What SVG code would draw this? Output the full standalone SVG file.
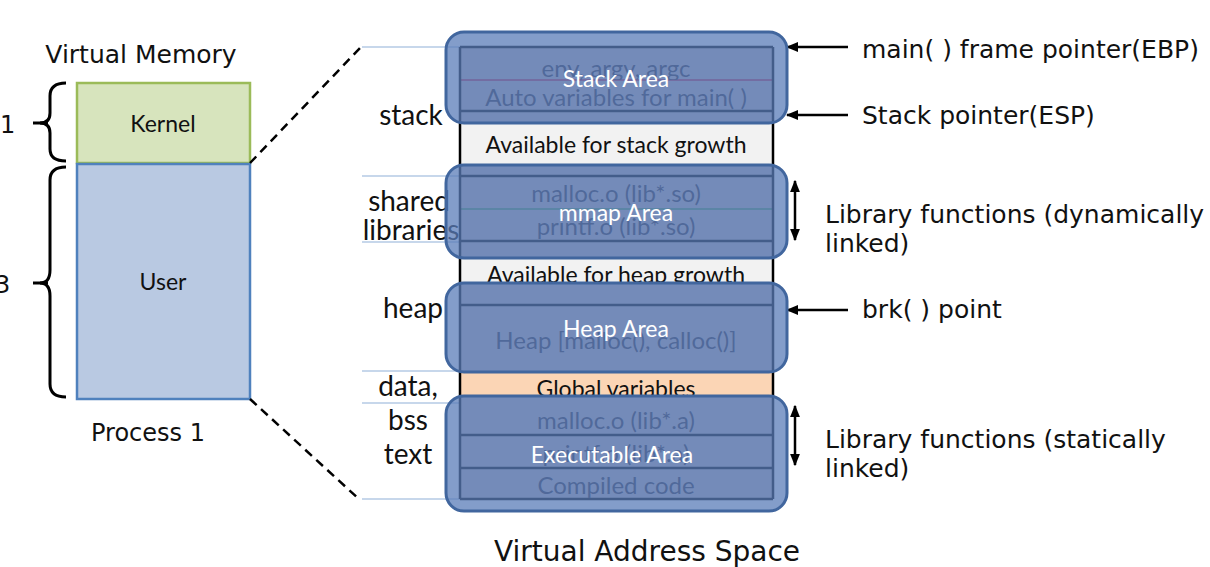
<svg xmlns="http://www.w3.org/2000/svg" width="1210" height="567" viewBox="0 0 1210 567">
<defs>
<marker id="ah" viewBox="0 0 10 10" refX="9" refY="5" markerWidth="5" markerHeight="5" orient="auto-start-reverse" markerUnits="strokeWidth">
<path d="M0,1 L10,5 L0,9 Z" fill="#000"/>
</marker>
<clipPath id="c1"><rect x="460" y="47" width="313" height="33"/></clipPath>
</defs>
<style>
.v{font-family:"DejaVu Sans","Verdana",sans-serif;fill:#111}
.g{font-family:Lato,"Liberation Sans",sans-serif;fill:#111}
.row{fill:#c4b8bc}
.dl{stroke:#000;stroke-width:2.5}
.inner{font-family:Lato,"Liberation Sans",sans-serif;font-size:24px;fill:#353040;text-anchor:middle}
.box{font-family:Lato,"Liberation Sans",sans-serif;font-size:23px;fill:#111;text-anchor:middle}
.ov{fill:#5a7cb8;fill-opacity:0.75;stroke:#41669e;stroke-width:3}
.ttl{font-family:Lato,"Liberation Sans",sans-serif;font-size:23px;fill:#fff;text-anchor:middle}
.guide{stroke:#8fb0d8;stroke-width:1.2}
.arr{stroke:#000;stroke-width:2.5;fill:none}
.br{stroke:#000;stroke-width:3;fill:none}
</style>
<rect width="1210" height="567" fill="#fff"/>

<g id="virtual-memory">
<text class="v" x="141" y="63" font-size="25" text-anchor="middle">Virtual Memory</text>
<g id="kernel">
<rect x="77" y="83" width="173" height="80" fill="#d7e4bd" stroke="#9bbb59" stroke-width="2.5"/>
<text class="g" x="163" y="132" font-size="23" text-anchor="middle">Kernel</text>
</g>
<g id="user">
<rect x="77" y="164" width="173" height="235" fill="#b9c9e2" stroke="#4f81bd" stroke-width="2.5"/>
<text class="g" x="163" y="290" font-size="23" text-anchor="middle">User</text>
</g>
<text class="v" x="148" y="441" font-size="24" text-anchor="middle">Process 1</text>
<path class="br" d="M66,83 Q50,83 50,96 L50,113 Q50,123 40,123 Q50,123 50,133 L50,149 Q50,161 66,161"/>
<line x1="33" y1="123" x2="48" y2="123" stroke="#000" stroke-width="3"/>
<path class="br" d="M66,167 Q50,167 50,180 L50,270 Q50,283 40,283 Q50,283 50,296 L50,384 Q50,397 66,397"/>
<line x1="33" y1="283" x2="48" y2="283" stroke="#000" stroke-width="3"/>
<text class="v" x="0" y="133" font-size="24">1</text>
<text class="v" x="-5" y="293" font-size="24">3</text>
</g>

<g id="connectors">
<line x1="250" y1="163" x2="360" y2="48" stroke="#000" stroke-width="2.5" stroke-dasharray="9,6"/>
<line x1="250" y1="399" x2="360" y2="500" stroke="#000" stroke-width="2.5" stroke-dasharray="9,6"/>
<line class="guide" x1="362" y1="47" x2="460" y2="47"/>
<line class="guide" x1="362" y1="176" x2="460" y2="176"/>
<line class="guide" x1="362" y1="242" x2="460" y2="242"/>
<line class="guide" x1="362" y1="371" x2="460" y2="371"/>
<line class="guide" x1="362" y1="403" x2="460" y2="403"/>
<line class="guide" x1="362" y1="499" x2="460" y2="499"/>
<line class="arr" x1="848" y1="47" x2="787" y2="47" marker-end="url(#ah)"/>
<line class="arr" x1="848" y1="115" x2="787" y2="115" marker-end="url(#ah)"/>
<line class="arr" x1="848" y1="310" x2="787" y2="310" marker-end="url(#ah)"/>
<line class="arr" x1="795" y1="181" x2="795" y2="240" marker-start="url(#ah)" marker-end="url(#ah)"/>
<line class="arr" x1="795" y1="406" x2="795" y2="465" marker-start="url(#ah)" marker-end="url(#ah)"/>
</g>

<g id="segment-labels">
<text class="g" x="411" y="125" font-size="28" text-anchor="middle">stack</text>
<text class="g" x="409" y="211" font-size="28" text-anchor="middle">shared</text>
<text class="g" x="411" y="240" font-size="28" text-anchor="middle">libraries</text>
<text class="g" x="413" y="318" font-size="28" text-anchor="middle">heap</text>
<text class="g" x="408" y="396" font-size="28" text-anchor="middle">data,</text>
<text class="g" x="408" y="430" font-size="28" text-anchor="middle">bss</text>
<text class="g" x="408" y="464" font-size="28" text-anchor="middle">text</text>
</g>

<g id="column">
<rect class="row" x="460" y="47" width="313" height="76"/>
<line x1="460" y1="80" x2="773" y2="80" stroke="#c04060" stroke-width="2"/>
<line class="dl" x1="460" y1="111" x2="773" y2="111"/>
<line class="dl" x1="460" y1="47" x2="773" y2="47"/>
<text class="inner" x="616" y="77" clip-path="url(#c1)">env, argv, argc</text>
<text class="inner" x="616" y="106">Auto variables for main( )</text>
<rect x="460" y="123" width="313" height="42" fill="#f2f2f2"/>
<text class="box" x="616" y="153">Available for stack growth</text>
<rect class="row" x="460" y="165" width="313" height="93"/>
<line class="dl" x1="460" y1="176" x2="773" y2="176"/>
<line x1="460" y1="209" x2="773" y2="209" stroke="#60a070" stroke-width="2"/>
<line class="dl" x1="460" y1="241" x2="773" y2="241"/>
<text class="inner" x="616" y="202">malloc.o (lib*.so)</text>
<text class="inner" x="616" y="235">printf.o (lib*.so)</text>
<rect x="460" y="258" width="313" height="25" fill="#f2f2f2"/>
<text class="box" x="616" y="283">Available for heap growth</text>
<rect class="row" x="460" y="283" width="313" height="89"/>
<line class="dl" x1="460" y1="305" x2="773" y2="305"/>
<text class="inner" x="616" y="349">Heap [malloc(), calloc()]</text>
<rect x="460" y="372" width="313" height="25" fill="#fbd5b5"/>
<text class="box" x="616" y="397">Global variables</text>
<rect class="row" x="460" y="397" width="313" height="102"/>
<line class="dl" x1="460" y1="435" x2="773" y2="435"/>
<line class="dl" x1="460" y1="468" x2="773" y2="468"/>
<line class="dl" x1="460" y1="499" x2="773" y2="499"/>
<text class="inner" x="616" y="429">malloc.o (lib*.a)</text>
<text class="inner" x="616" y="462">printf.o (lib*.a)</text>
<text class="inner" x="616" y="494">Compiled code</text>
<line x1="460" y1="47" x2="460" y2="499" stroke="#000" stroke-width="2.5"/>
<line x1="773" y1="47" x2="773" y2="499" stroke="#000" stroke-width="2.5"/>
</g>

<g id="stack-area">
<rect class="ov" x="446" y="32" width="341" height="91" rx="18"/>
<text class="ttl" x="616" y="87">Stack Area</text>
</g>
<g id="mmap-area">
<rect class="ov" x="446" y="165" width="341" height="93" rx="18"/>
<text class="ttl" x="616" y="221">mmap Area</text>
</g>
<g id="heap-area">
<rect class="ov" x="446" y="283" width="341" height="89" rx="18"/>
<text class="ttl" x="616" y="337">Heap Area</text>
</g>
<g id="executable-area">
<rect class="ov" x="446" y="396" width="341" height="115" rx="18"/>
<text class="ttl" x="612" y="463">Executable Area</text>
</g>

<g id="annotations">
<text class="v" x="862" y="58" font-size="25">main( ) frame pointer(EBP)</text>
<text class="v" x="862" y="124" font-size="25">Stack pointer(ESP)</text>
<text class="v" x="825" y="223" font-size="25">Library functions (dynamically</text>
<text class="v" x="825" y="252" font-size="25">linked)</text>
<text class="v" x="862" y="318" font-size="25">brk( ) point</text>
<text class="v" x="825" y="448" font-size="25">Library functions (statically</text>
<text class="v" x="825" y="477" font-size="25">linked)</text>
<text class="v" x="647" y="561" font-size="28" text-anchor="middle">Virtual Address Space</text>
</g>
</svg>
